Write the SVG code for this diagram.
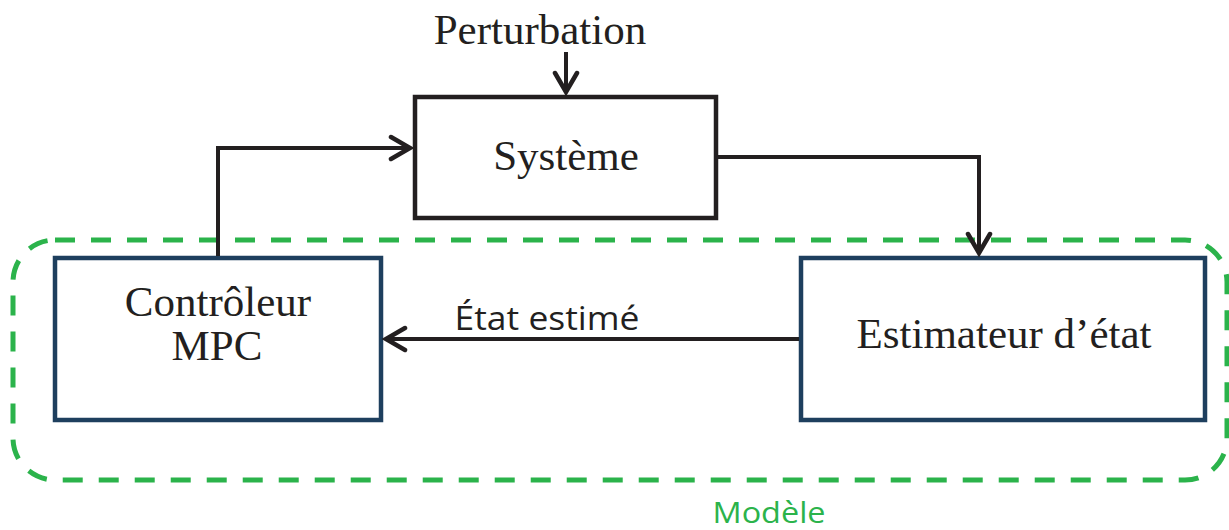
<svg xmlns="http://www.w3.org/2000/svg" width="1229" height="530" viewBox="0 0 1229 530">
<style>
.serif{font-family:"Liberation Serif","Times New Roman",serif;font-size:43px;fill:#231f20;text-anchor:middle}
.box{fill:#fff;stroke:#1e3f5e;stroke-width:4.5}
.sys{fill:#fff;stroke:#231f20;stroke-width:4.5}
.conn{fill:none;stroke:#231f20;stroke-width:4}
</style>
<defs>
<marker id="arr" markerUnits="userSpaceOnUse" viewBox="-24 -14 28 28" markerWidth="28" markerHeight="28" refX="0" refY="0" orient="auto">
<path d="M-20,-11 L-1,0 L-20,11" fill="none" stroke="#231f20" stroke-width="4.5" stroke-linecap="round" stroke-linejoin="miter"/>
</marker>
</defs>
<g id="modele">
<rect x="13" y="240" width="1214" height="240" rx="42" ry="42" fill="none" stroke="#2bb34b" stroke-width="5" stroke-dasharray="20 16"/>
<text x="769" y="523" font-family="'Open Sans','Noto Sans',sans-serif" font-size="30" fill="#2bb34b" text-anchor="middle" textLength="113" lengthAdjust="spacingAndGlyphs">Modèle</text>
</g>
<g id="systeme">
<rect class="sys" x="415" y="97" width="301" height="121"/>
<text class="serif" x="566" y="170" font-size="44">Système</text>
</g>
<g id="controleur">
<rect class="box" x="55" y="258" width="326" height="162"/>
<text class="serif" x="218" y="316" font-size="44">Contrôleur</text>
<text class="serif" x="217" y="360" font-size="44">MPC</text>
</g>
<g id="estimateur">
<rect class="box" x="801" y="258" width="404" height="162"/>
<text class="serif" x="1004" y="348" font-size="44">Estimateur d’état</text>
</g>
<g id="perturbation">
<text class="serif" x="540" y="44">Perturbation</text>
</g>
<g id="connectors">
<path class="conn" d="M566,52 L566,93" marker-end="url(#arr)"/>
<path class="conn" d="M218,256 L218,148 L411,148" marker-end="url(#arr)"/>
<path class="conn" d="M718,157 L979,157 L979,254" marker-end="url(#arr)"/>
<path class="conn" d="M799,339 L385,339" marker-end="url(#arr)"/>
<text x="547" y="330" font-family="'Open Sans','Noto Sans',sans-serif" font-size="32" fill="#231f20" text-anchor="middle" textLength="185" lengthAdjust="spacingAndGlyphs">État estimé</text>
</g>
</svg>
